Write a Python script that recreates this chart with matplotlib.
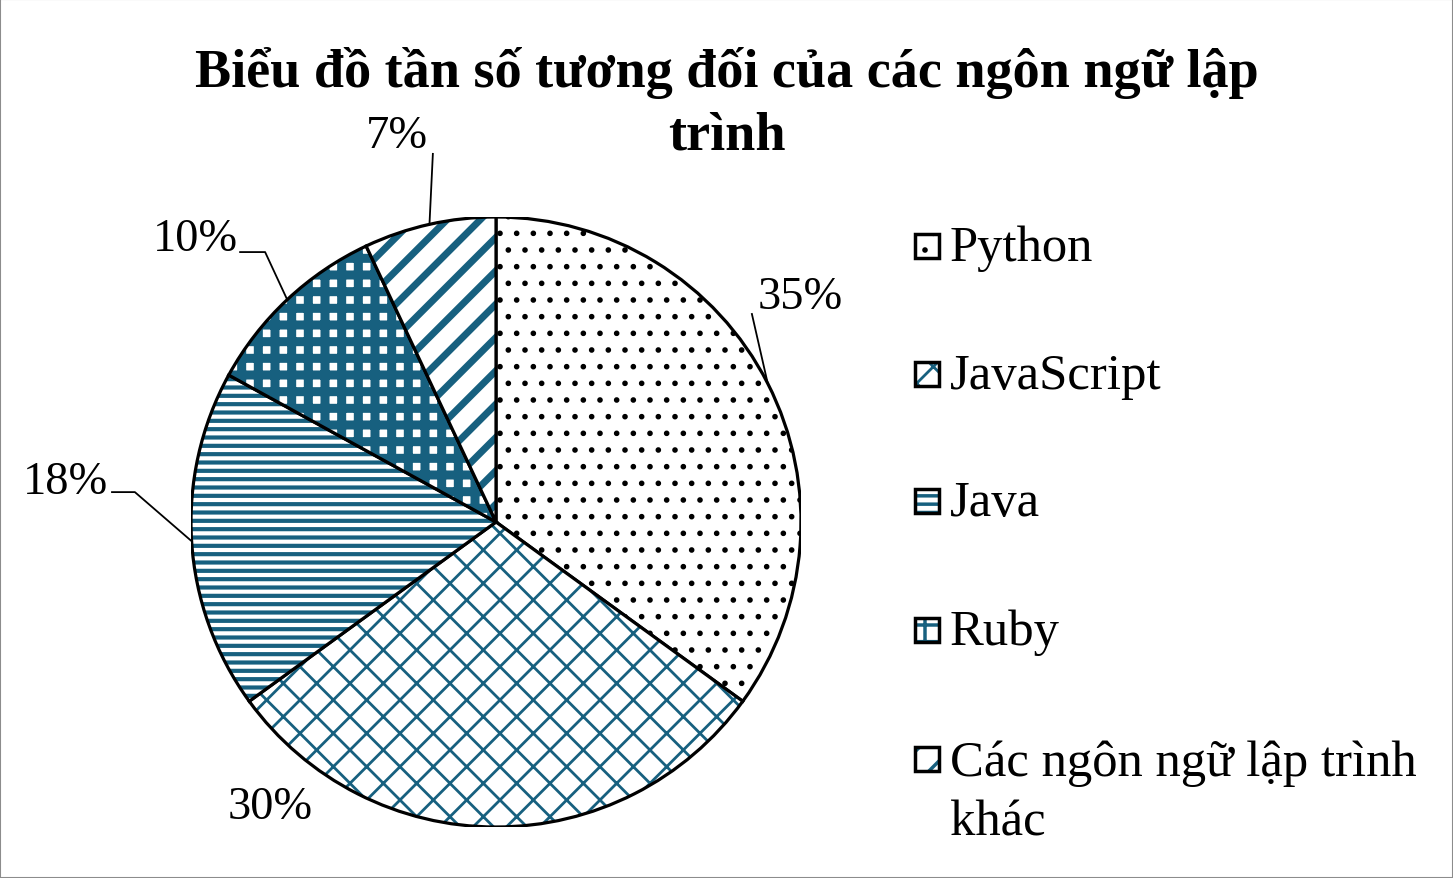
import matplotlib
matplotlib.use('Agg')
import matplotlib.pyplot as plt
import numpy as np
from matplotlib.patches import Wedge, Rectangle

plt.rcParams['font.family'] = ['Liberation Serif', 'DejaVu Serif']

# data
languages = ['Python', 'JavaScript', 'Java', 'Ruby', 'Các ngôn ngữ lập trình\nkhác']
share = [35, 30, 18, 10, 7]
pct_labels = ['35%', '30%', '18%', '10%', '7%']

blue = '#17607F'
hatches = ['.', 'x', '--', '+', '/']
hatch_cols = ['black', blue, blue, blue, blue]
hatch_lw = [1.6, 2.0, 3.0, 6.5, 5.0]

# label layout (data units, radius = 1): text position, leader elbow points
lbl_pos = [(0.997, 0.738), (-0.741, -0.934), (-1.413, 0.131), (-0.987, 0.928), (-0.325, 1.266)]
leaders = [[(0.839, 0.682)], None, [(-1.184, 0.098), (-1.259, 0.098)],
           [(-0.757, 0.885), (-0.839, 0.885)], [(-0.207, 1.207)]]

W, H = 1453, 879
fig = plt.figure(figsize=(W / 100, H / 100), dpi=100)
cx, cy, R = 496, 523, 305
ax = fig.add_axes([(cx - R) / W, (H - cy - R) / H, 2 * R / W, 2 * R / H])

def hatched(patch, lw):
    if hasattr(patch, 'set_hatch_linewidth'):
        patch.set_hatch_linewidth(lw)
    return patch

# fill wedges with hatch, then outline on top
theta = 90.0
mids = []
for i, v in enumerate(share):
    span = v / sum(share) * 360
    t1, t2 = theta - span, theta
    with plt.rc_context({'hatch.linewidth': hatch_lw[i]}):
        w = Wedge((0, 0), 1, t1, t2, facecolor='white', edgecolor=hatch_cols[i],
                  hatch=hatches[i], linewidth=0)
    ax.add_patch(hatched(w, hatch_lw[i]))
    ax.add_patch(Wedge((0, 0), 1, t1, t2, facecolor='none', edgecolor='black', linewidth=2.3))
    mids.append(np.deg2rad((t1 + t2) / 2))
    theta = t1

for i, lab in enumerate(pct_labels):
    ax.text(lbl_pos[i][0], lbl_pos[i][1], lab, fontsize=33.5, ha='center', va='center')
    if leaders[i] is not None:
        pts = [(np.cos(mids[i]), np.sin(mids[i]))] + leaders[i]
        xs, ys = zip(*pts)
        ax.plot(xs, ys, color='black', lw=1.3, clip_on=False)

ax.set_xlim(-1, 1)
ax.set_ylim(-1, 1)
ax.axis('off')

fig.text(0.5, 1 - 73 / H, 'Biểu đồ tần số tương đối của các ngôn ngữ lập',
         fontsize=39, fontweight='bold', ha='center', va='center')
fig.text(0.5, 1 - 136 / H, 'trình', fontsize=39, fontweight='bold', ha='center', va='center')

# legend
leg_y = [247, 375, 502, 631, 760]
for i, name in enumerate(languages):
    y0 = leg_y[i]
    box = [915 / W, 1 - (y0 + 12) / H, 24 / W, 24 / H]
    with plt.rc_context({'hatch.linewidth': min(hatch_lw[i], 2.5)}):
        r = Rectangle(box[:2], box[2], box[3], transform=fig.transFigure, facecolor='white',
                      edgecolor=hatch_cols[i], hatch=hatches[i], linewidth=0)
    fig.patches.append(hatched(r, min(hatch_lw[i], 2.5)))
    fig.patches.append(Rectangle(box[:2], box[2], box[3], transform=fig.transFigure,
                                 facecolor='none', edgecolor='black', linewidth=2.5))
    if '\n' in name:
        fig.text(950 / W, 1 - (y0 - 19) / H, name, fontsize=36.5, ha='left', va='top',
                 linespacing=1.35)
    else:
        fig.text(950 / W, 1 - (y0 + 2) / H, name, fontsize=36.5, ha='left', va='center')

fig.patches.append(Rectangle((0, 0), 1, 1, transform=fig.transFigure, facecolor='none',
                             edgecolor='#8c8c8c', linewidth=1.5))

fig.savefig('out.png', dpi=100, facecolor='white')
